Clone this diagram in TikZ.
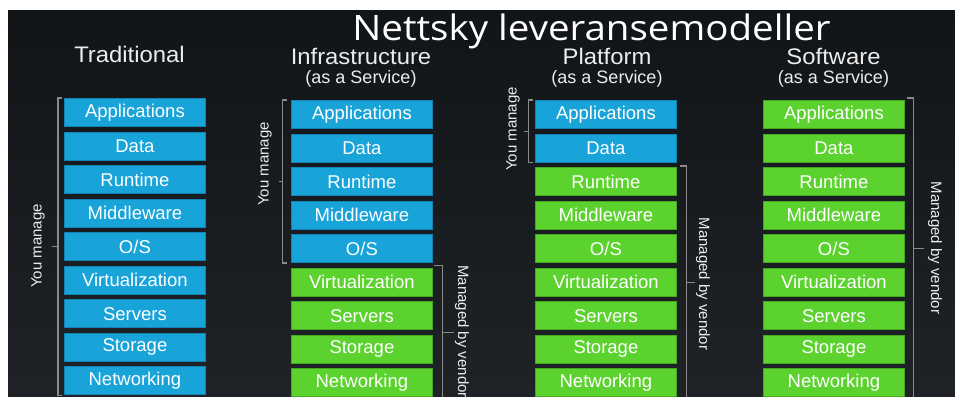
\documentclass[tikz,border=0pt]{standalone}
\usepackage{fontspec}
\setmainfont{Liberation Sans}
\newfontfamily\headfont{Open Sans}
\usetikzlibrary{calc}

\definecolor{bgtop}{HTML}{121518}
\definecolor{bgbot}{HTML}{1F2226}
\definecolor{selfblue}{HTML}{18A4D9}
\definecolor{selfblueline}{HTML}{1283B3}
\definecolor{vendgreen}{HTML}{5CD22F}
\definecolor{vendgreenline}{HTML}{45A823}
\definecolor{labeltext}{HTML}{ECECEC}
\definecolor{bracketgray}{HTML}{8A8A8A}

\begin{document}
\begin{tikzpicture}[x=1pt,y=-1pt,
  layer/.style={minimum width=141pt, minimum height=28pt, inner sep=0pt,
    anchor=north west, text=white, font=\fontsize{18.5}{20}\selectfont, line width=0.8pt},
  coltitle/.style={anchor=base, text=labeltext, font=\fontsize{22.5}{24}\selectfont,
    inner sep=0pt, xscale=1.06},
  colsub/.style={anchor=base, text=labeltext, font=\fontsize{18}{20}\selectfont, inner sep=0pt},
  brk/.style={draw=bracketgray, line width=1.3pt},
  brklabel/.style={text=labeltext, font=\fontsize{15}{16}\selectfont, inner sep=0pt}
]
\useasboundingbox (0,0) rectangle (955,396);
\clip (0,0) rectangle (955,396);
\fill[white] (0,0) rectangle (955,396);
\shade[top color=bgtop, bottom color=bgbot] (8,11) rectangle (955,396);

% heading
\node[anchor=base, text=white, font=\headfont\fontsize{35}{38}\selectfont,
  inner sep=0pt, xscale=1.1, text depth=0pt] (heading) at (591.5,41) {Nettsky leveransemodeller};

% column headings
\node[coltitle] (ttitle) at (129.5,63) {Traditional};
\node[coltitle] (ititle) at (361,64) {Infrastructure};
\node[colsub]   (isub)   at (361,83) {(as a Service)};
\node[coltitle] (ptitle) at (607,64) {Platform};
\node[colsub]   (psub)   at (607,83) {(as a Service)};
\node[coltitle] (stitle) at (833.5,64) {Software};
\node[colsub]   (ssub)   at (833.5,83) {(as a Service)};

% layer stacks: the first \k layers of each column are self-managed (blue)
\foreach \col/\xx/\yy/\k in {t/64/98/9, i/291/100/5, p/535/100/2, s/763/100/0} {
  \foreach \nm/\txt [count=\j from 0] in {app/Applications, dat/Data, run/Runtime,
      mid/Middleware, os/{O/S}, virt/Virtualization, srv/Servers, sto/Storage, net/Networking} {
    \ifnum\j<\k
      \colorlet{boxfill}{selfblue}\colorlet{boxline}{selfblueline}
    \else
      \colorlet{boxfill}{vendgreen}\colorlet{boxline}{vendgreenline}
    \fi
    \node[layer, fill=boxfill, draw=boxline] (\col\nm) at (\xx,\yy+33.55*\j) {\txt};
  }
}

% Traditional: you manage everything
\draw[brk] ([xshift=-2pt]tapp.north west) -- ++(-4,0) |- ([xshift=-2pt]tnet.south west);
\draw[brk] ($(tapp.north west)!.5!(tnet.south west)+(-6,0)$) -- ++(-6,0);
\node[brklabel, rotate=90] (tyou) at (38,246) {You manage};

% Infrastructure as a Service
\draw[brk] ([xshift=-4pt]iapp.north west) -- ++(-4.5,0) |- ([xshift=-4pt]ios.south west);
\draw[brk] ($(iapp.north west)!.5!(ios.south west)+(-8.5,0)$) -- ++(-4,0);
\node[brklabel, rotate=90] (iyou) at (265,164) {You manage};
\draw[brk] ([xshift=1.5pt,yshift=2.5pt]ivirt.north east) -- ++(8,0) |- ([xshift=1.5pt]inet.south east);
\draw[brk] ($(ivirt.north east)!.5!(inet.south east)+(9.5,0)$) -- ++(11.5,0);
\node[brklabel, rotate=-90, anchor=west] (ivend) at (462,265) {Managed by vendor};

% Platform as a Service
\draw[brk] ([xshift=-2pt]papp.north west) -- ++(-4.5,0) |- ([xshift=-2pt]pdat.south west);
\draw[brk] ($(papp.north west)!.5!(pdat.south west)+(-6.5,0)$) -- ++(-5,0);
\node[brklabel, rotate=90] (pyou) at (513,129) {You manage};
\draw[brk] ([xshift=3pt,yshift=1pt]prun.north east) -- ++(7,0) |- ([xshift=3pt]pnet.south east);
\draw[brk] ($(prun.north east)!.5!(pnet.south east)+(10,0)$) -- ++(8,0);
\node[brklabel, rotate=-90] (pvend) at (703,284) {Managed by vendor};

% Software as a Service
\draw[brk] ([xshift=2pt,yshift=2pt]sapp.north east) -- ++(7,0) |- ([xshift=2pt]snet.south east);
\draw[brk] ($(sapp.north east)!.5!(snet.south east)+(9,0)$) -- ++(10,0);
\node[brklabel, rotate=-90] (svend) at (935,248) {Managed by vendor};
\end{tikzpicture}
\end{document}
